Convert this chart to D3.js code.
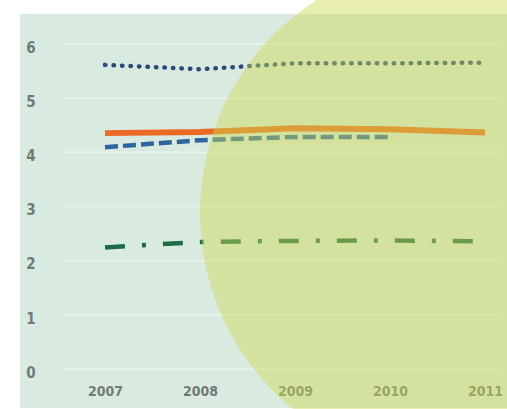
<!DOCTYPE html>
<html>
<head>
<meta charset="utf-8">
<script src="https://cdn.jsdelivr.net/npm/d3@7"></script>
<style>
  html, body { margin: 0; padding: 0; background: #ffffff; }
  svg { display: block; }
</style>
</head>
<body>
<svg id="chart" width="507" height="409"></svg>
<script>
// ---- data ----
const years = [2007, 2008, 2009, 2010, 2011];
const yTicks = [0, 1, 2, 3, 4, 5, 6];
const xTickLabels = ["2007", "2008", "2009", "2010", "2011"];

const dottedSeries = [5.67, 5.59, 5.70, 5.70, 5.71];
const orangeSeries = [4.41, 4.43, 4.50, 4.48, 4.42];
const blueDashedSeries = [4.15, 4.28, 4.34, 4.34];
const greenDashDotSeries = [2.30, 2.40, 2.42, 2.43, 2.41];

// ---- layout ----
const svg = d3.select("#chart");
const W = 507, H = 409;

const x = d3.scaleLinear().domain([2007, 2011]).range([105, 485]);
const y = d3.scaleLinear().domain([0, 6]).range([372, 47]);

// panel background
svg.append("rect")
  .attr("x", 20).attr("y", 14)
  .attr("width", W - 20).attr("height", 394)
  .attr("fill", "#d9ebe0");

// gridlines
svg.append("g")
  .selectAll("line")
  .data(yTicks)
  .join("line")
  .attr("x1", 62).attr("x2", 500)
  .attr("y1", d => y(d) - 3).attr("y2", d => y(d) - 3)
  .attr("stroke", "#e5f2ea")
  .attr("stroke-width", 2);

// y axis labels
const yAxis = d3.axisLeft(y).tickValues(yTicks).tickSize(0).tickPadding(0).tickFormat(d3.format("d"));
const gy = svg.append("g").attr("transform", "translate(31,0)").call(yAxis);
gy.select(".domain").remove();
gy.selectAll("text")
  .attr("text-anchor", "middle")
  .attr("dy", "0.35em")
  .attr("fill", "#717b74")
  .style("font-family", "'DejaVu Sans Condensed', 'DejaVu Sans', sans-serif")
  .style("font-weight", "bold")
  .style("font-size", "15px");

// x axis labels
const xAxis = d3.axisBottom(x).tickValues(years).tickSize(0).tickPadding(0)
  .tickFormat((d, i) => xTickLabels[i]);
const gx = svg.append("g").attr("transform", "translate(0,386)").call(xAxis);
gx.select(".domain").remove();
gx.selectAll("text")
  .attr("dy", "0.71em")
  .attr("fill", "#717b74")
  .style("font-family", "'DejaVu Sans Condensed', 'DejaVu Sans', sans-serif")
  .style("font-weight", "bold")
  .style("font-size", "14px");

const line = d3.line().x((d, i) => x(years[i])).y(d => y(d));

// dark green dash-dot
svg.append("path")
  .datum(greenDashDotSeries)
  .attr("d", line)
  .attr("fill", "none")
  .attr("stroke", "#1e6b46")
  .attr("stroke-width", 4.5)
  .attr("stroke-dasharray", "20,17,4,17");

// blue dashed
svg.append("path")
  .datum(blueDashedSeries)
  .attr("d", line)
  .attr("fill", "none")
  .attr("stroke", "#2c65a0")
  .attr("stroke-width", 4.5)
  .attr("stroke-dasharray", "13,5");

// orange solid
svg.append("path")
  .datum(orangeSeries)
  .attr("d", line)
  .attr("fill", "none")
  .attr("stroke", "#ea6a25")
  .attr("stroke-width", 6);

// dotted dark blue
svg.append("path")
  .datum(dottedSeries)
  .attr("d", line)
  .attr("fill", "none")
  .attr("stroke", "#2a4a7a")
  .attr("stroke-width", 4.5)
  .attr("stroke-linecap", "round")
  .attr("stroke-dasharray", "0.5,8");

// translucent yellow-green circle overlay
svg.append("circle")
  .attr("cx", 453).attr("cy", 213).attr("r", 253)
  .attr("fill", "rgb(204,217,80)")
  .attr("fill-opacity", 0.45);
</script>
</body>
</html>
